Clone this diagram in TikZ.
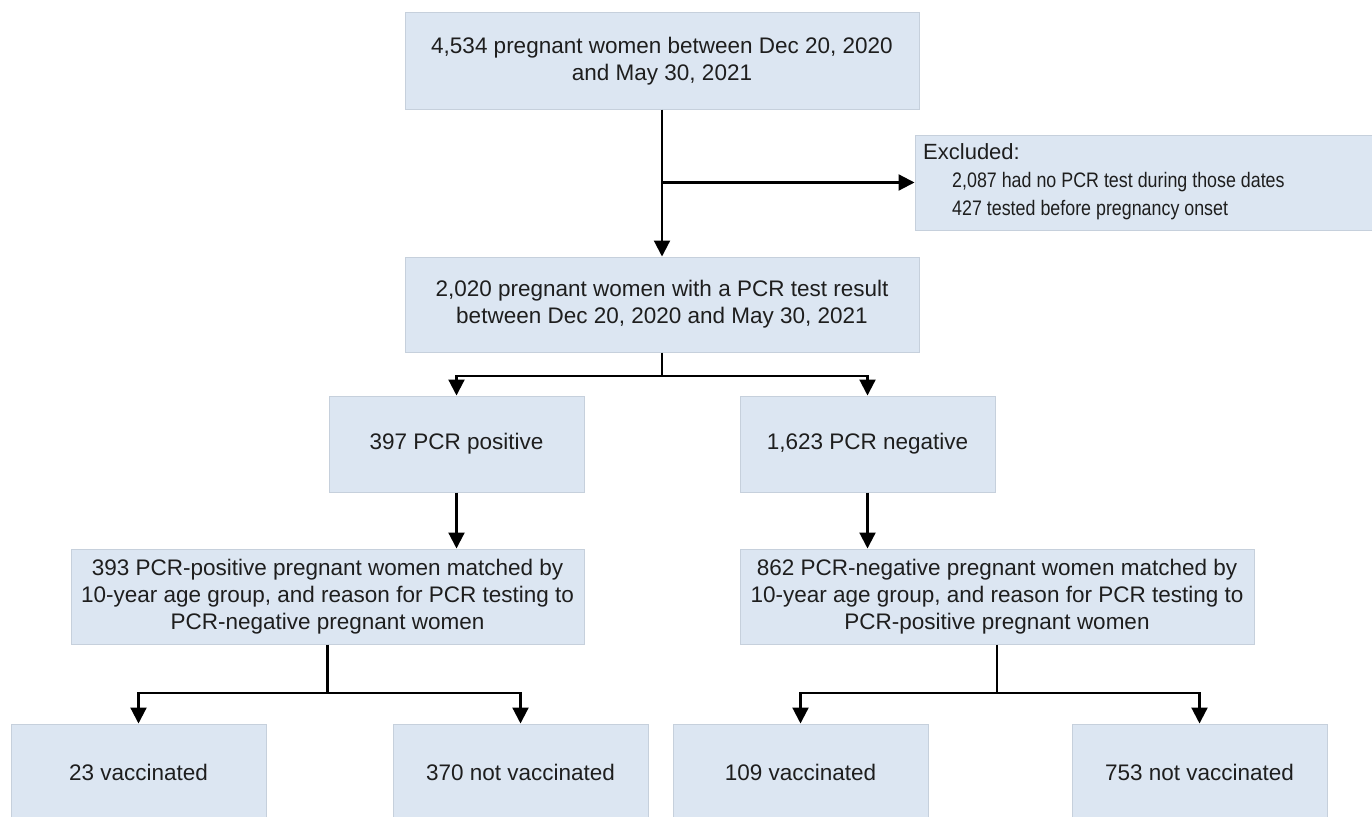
\documentclass[tikz,border=0pt]{standalone}
\usepackage{fontspec}
\setmainfont{Liberation Sans}
\newfontfamily\narrowfont[FakeStretch=0.85]{Liberation Sans}
\usetikzlibrary{arrows.meta}
\definecolor{boxfill}{HTML}{DCE6F2}
\definecolor{boxline}{HTML}{C6D0DC}
\definecolor{txt}{HTML}{1E1E1E}
\tikzset{
  flowbox/.style={draw=boxline, line width=1pt, fill=boxfill, inner sep=0pt, align=center,
    text=txt, font=\fontsize{22.5}{27}\selectfont},
  widebox/.style={flowbox, minimum width=514pt, minimum height=96pt},
  smallbox/.style={flowbox, minimum width=255pt, minimum height=96pt},
  conn/.style={draw=black, line width=2.2pt},
  arr/.style={conn, -{Triangle[length=16pt,width=16pt]}}
}
\begin{document}
\begin{tikzpicture}[x=1pt,y=-1pt]
\useasboundingbox (0,0) rectangle (1372,816);
\clip (0,0) rectangle (1372,816);
\fill[white] (0,0) rectangle (1372,816);
% boxes
\node[widebox] (n1) at (662,61) {4,534 pregnant women between Dec 20, 2020\\and May 30, 2021};
\node[draw=boxline, line width=1pt, fill=boxfill, minimum width=457pt, minimum height=95pt, inner sep=0pt] (ex) at (1143.5,182.5) {};
\node[anchor=west, align=left, inner sep=0pt, text=txt, font=\fontsize{22}{28}\selectfont] (extext) at (923,182)
  {Excluded:\\
   \hspace*{29pt}{\narrowfont\fontsize{21}{28}\selectfont 2,087 had no PCR test during those dates}\\
   \hspace*{29pt}{\narrowfont\fontsize{21}{28}\selectfont 427 tested before pregnancy onset}};
\node[widebox, minimum height=95pt] (n2) at (662,304.5) {2,020 pregnant women with a PCR test result\\between Dec 20, 2020 and May 30, 2021};
\node[smallbox] (pos) at (456.5,444) {397 PCR positive};
\node[smallbox] (neg) at (867.5,444) {1,623 PCR negative};
\node[widebox, minimum width=513pt, minimum height=95pt] (m1) at (327.5,596.5)
  {393 PCR-positive pregnant women matched by\\10-year age group, and reason for PCR testing to\\PCR-negative pregnant women};
\node[widebox, minimum height=95pt] (m2) at (997,596.5)
  {862 PCR-negative pregnant women matched by\\10-year age group, and reason for PCR testing to\\PCR-positive pregnant women};
\node[smallbox] (v1) at (138.5,772) {23 vaccinated};
\node[smallbox] (u1) at (520.5,772) {370 not vaccinated};
\node[smallbox] (v2) at (800.5,772) {109 vaccinated};
\node[smallbox] (u2) at (1199.5,772) {753 not vaccinated};
% connectors
\coordinate (j1) at (662,182.5);
\draw[arr] (n1.south) -- (n2.north);
\draw[arr] (j1) -- (ex.west);
\coordinate (b1) at (662,376);
\draw[conn] (n2.south) -- (b1);
\draw[arr] (b1) -| (pos.north);
\draw[arr] (b1) -| (neg.north);
\draw[arr] (pos.south) -- (pos.south |- m1.north);
\draw[arr] (neg.south) -- (neg.south |- m2.north);
\coordinate (b2) at (327.5,693);
\coordinate (b3) at (997,693);
\draw[conn] (m1.south) -- (b2);
\draw[arr] (b2) -| (v1.north);
\draw[arr] (b2) -| (u1.north);
\draw[conn] (m2.south) -- (b3);
\draw[arr] (b3) -| (v2.north);
\draw[arr] (b3) -| (u2.north);
\end{tikzpicture}
\end{document}
